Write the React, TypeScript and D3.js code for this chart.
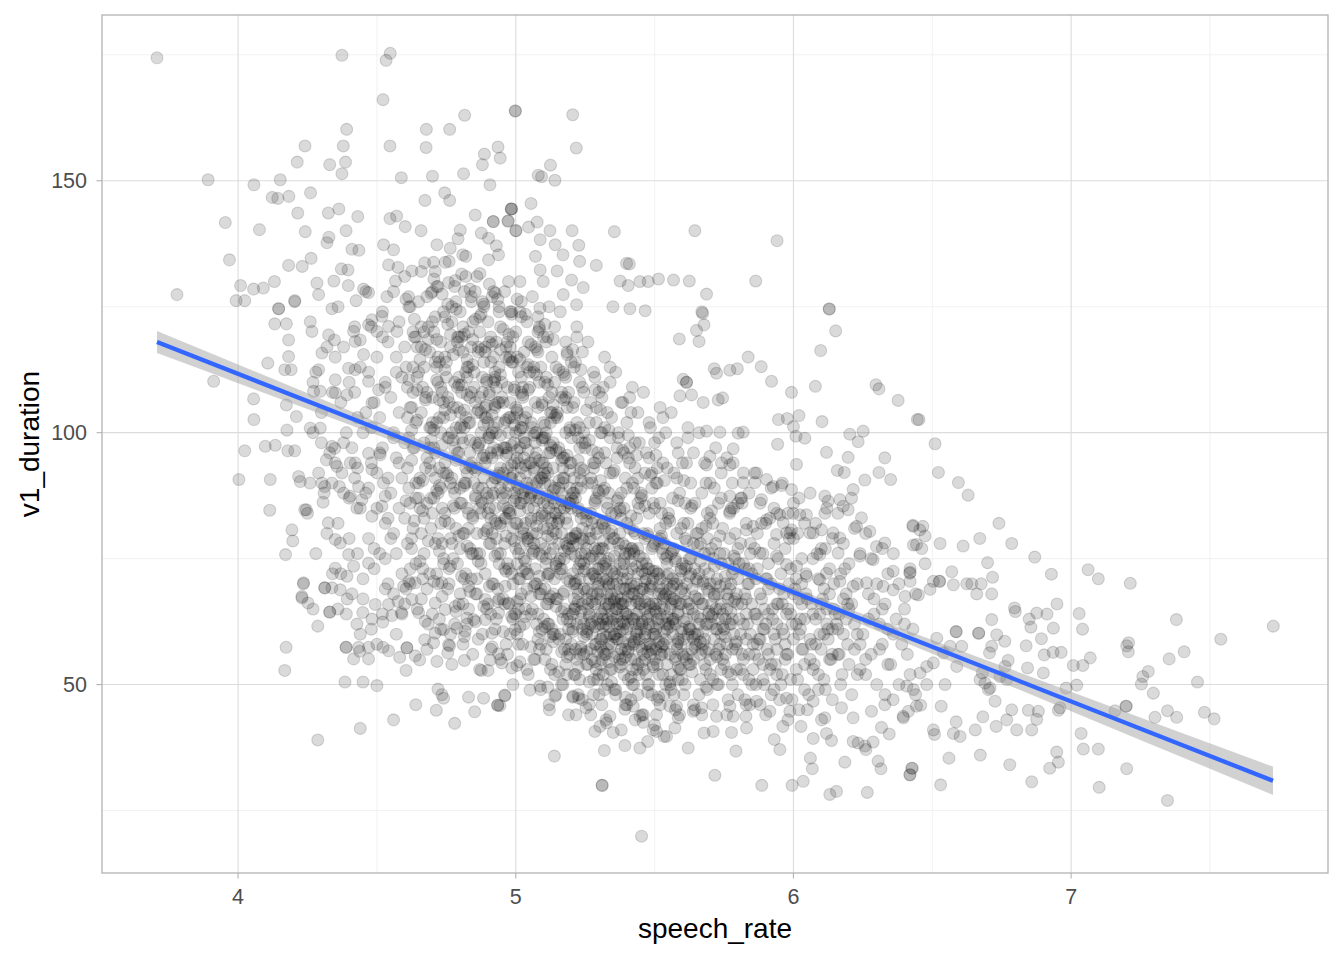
import { useEffect, useRef } from 'react';
import * as d3 from 'd3';

type Pt = [number, number];

const xTicks = [4, 5, 6, 7];
const yTicks = [50, 100, 150];
const xMinor = [4.5, 5.5, 6.5, 7.5];
const yMinor = [25, 75, 125, 175];

// fitted line end points (lm) and the read-off half width of its 95% band
const fitX = [3.708, 7.727];
const fitY = [118.0, 30.9];
const bandX = [3.708, 4.0, 4.5, 5.0, 5.47, 6.0, 6.5, 7.0, 7.727];
const bandHalf = [2.2, 1.86, 1.29, 0.79, 0.55, 0.85, 1.37, 1.94, 2.8];

// sparse points, upper left
const upperLeftPoints: Pt[] = [
  [3.708,174.4],[4.374,174.9],[4.548,175.3],[4.533,173.9],[4.522,166.1],[4.816,163.0],[4.998,163.9],[4.391,160.2],
  [4.678,160.2],[4.762,160.2],[4.241,156.9],[4.379,156.9],[4.547,156.9],[4.677,156.6],[4.887,155.3],[4.936,156.7],
  [4.944,154.5],[4.880,153.2],[4.213,153.7],[4.330,153.2],[4.387,153.7],[4.374,151.4],[3.892,150.2],[4.152,150.2],
  [4.057,149.2],[4.588,150.6],[4.700,150.9],[4.812,151.4],[4.907,149.2],[4.123,146.7],[4.143,146.5],[4.183,146.9],
  [4.261,147.6],[4.673,146.1],[4.744,147.6],[4.762,146.1],[4.984,144.4],[4.984,144.4],[4.919,141.9],[4.919,141.9],
  [4.972,142.0],[4.854,143.2],[4.215,143.6],[4.325,143.6],[4.363,144.4],[4.431,142.9],[3.954,141.7],[4.077,140.3],
  [4.242,139.9],[4.389,140.1],[4.547,142.5],[4.571,143.0],[4.602,140.9],[4.659,140.1],[4.800,140.2],[4.876,139.6],
  [4.902,138.6],[5.000,140.1],[4.320,137.7],[4.327,138.8],[4.410,136.4],[4.435,136.2],[4.524,137.3],[4.560,136.3],
  [4.716,137.3],[4.764,136.6],[4.792,138.5],[4.809,135.3],[4.930,137.1],[4.938,135.3],[3.969,134.3],[4.182,133.2],
  [4.231,133.0],[4.263,134.6],[4.372,132.5],[4.396,132.3],[4.542,133.3],[4.576,132.8],[4.626,132.1],[4.672,133.7],
  [4.704,133.8],[4.746,133.8],[4.902,134.3],[4.871,131.6],[4.782,130.2],[4.710,132.0],[3.780,127.4],[4.009,129.2],
  [4.056,128.5],[4.091,128.7],[4.131,130.0],[4.284,129.7],[4.290,127.4],[4.345,130.1],[4.397,129.2],[4.452,128.5],
  [4.470,127.8],[4.567,130.1],[4.695,127.7],[4.854,128.0],[4.926,127.7],[3.993,126.2],[4.024,126.2],[4.146,124.6],
  [4.204,126.2],[4.338,124.6],[4.425,126.2],[4.536,127.0],[4.614,127.0],[4.758,129.8],[4.974,130.0],
];

// sparse points, upper middle
const upperMidPoints: Pt[] = [
  [4.999,163.8],[5.205,163.1],[5.218,156.5],[5.125,153.1],[5.081,151.1],[5.093,150.8],[5.141,150.1],[5.055,145.5],
  [4.985,144.4],[4.973,142.0],[5.077,141.8],[5.046,140.8],[5.001,140.1],[5.123,140.1],[5.203,140.1],[5.355,139.9],
  [5.645,140.1],[5.941,138.1],[5.088,138.3],[5.142,137.3],[5.227,137.2],[5.071,135.0],[5.170,135.3],[5.230,134.0],
  [5.290,133.2],[5.088,132.3],[5.149,132.1],[5.399,133.6],[5.409,133.5],[5.376,130.1],[5.405,129.2],[5.447,130.0],
  [5.477,130.0],[5.514,130.5],[5.568,130.3],[5.625,130.1],[5.864,130.1],[5.687,127.5],[5.350,125.0],[5.411,124.6],
  [5.466,124.2],[5.670,124.0],[6.129,124.6],[5.201,130.3],[5.243,128.8],[5.099,130.0],[5.015,130.0],[5.171,127.4],
  [5.219,125.4],[5.087,124.7],
];

// sparse points, left side
const leftPoints: Pt[] = [
  [3.912,110.2],[4.107,113.8],[4.056,106.7],[4.057,102.6],[4.024,96.4],[4.003,90.7],[4.116,90.7],[4.114,84.6],
  [4.098,97.3],[4.134,97.5],[4.179,96.4],[4.204,96.4],[4.176,100.5],[4.210,103.2],[4.174,105.5],[4.182,118.4],
  [4.182,115.1],[4.168,112.5],[4.191,112.5],[4.132,121.6],[4.174,121.6],[4.146,124.6],[4.204,126.0],[4.266,120.1],
  [4.302,115.8],[4.290,112.5],[4.326,119.4],[4.347,118.4],[4.194,80.7],[4.197,78.5],[4.171,75.8],[4.246,84.7],
  [4.240,84.7],[4.306,86.2],[4.325,82.1],[4.218,91.3],[4.224,90.3],[4.259,90.0],[4.302,90.0],[4.312,89.3],
  [4.338,90.0],[4.365,89.3],[4.374,92.0],[4.260,100.9],[4.296,100.9],[4.318,94.6],[4.338,97.3],[4.348,96.9],
  [4.356,93.3],[4.404,94.0],[4.422,94.0],[4.272,108.2],[4.296,108.2],[4.350,110.5],[4.392,107.5],[4.350,107.9],
  [4.398,112.8],[4.422,112.5],[4.452,115.5],[4.470,110.2],[4.506,108.5],[4.482,105.9],[4.350,78.8],[4.368,78.1],
  [4.398,75.8],[4.416,73.5],[4.470,74.1],[4.350,73.1],[4.392,71.5],[4.338,69.2],[4.236,70.2],[4.312,69.2],
  [4.230,67.5],[4.404,87.4],[4.428,85.0],[4.446,86.7],[4.482,83.4],[4.518,85.4],[4.530,87.4],[4.524,90.0],
  [4.482,92.7],[4.434,89.3],[4.470,95.9],[4.512,95.6],[4.416,120.1],[4.440,118.4],[4.422,118.1],[4.470,121.4],
  [4.482,122.4],[4.500,120.1],[4.518,123.1],[4.542,121.1],[4.572,120.1],
];

// sparse points, lower left
const lowerLeftPoints: Pt[] = [
  [4.173,57.4],[4.168,52.8],[4.287,61.6],[4.330,64.4],[4.330,64.4],[4.230,67.2],[4.252,66.2],[4.270,65.0],
  [4.235,70.0],[4.312,69.2],[4.368,68.8],[4.393,67.0],[4.360,65.0],[4.389,57.4],[4.389,57.4],[4.434,57.4],
  [4.416,55.1],[4.470,57.4],[4.470,55.1],[4.438,56.6],[4.385,50.5],[4.450,50.5],[4.500,49.8],[4.440,41.3],
  [4.287,39.0],[4.560,43.0],[4.640,46.0],[4.714,44.9],[4.720,49.1],[4.734,48.0],[4.740,47.3],[4.780,42.3],
  [4.830,47.5],[4.884,47.3],[4.852,44.6],[4.935,45.9],[4.935,45.9],[4.960,47.9],[4.605,52.8],[4.522,57.4],
  [4.542,56.7],[4.582,55.4],[4.608,57.3],[4.608,57.3],[4.638,55.7],[4.654,54.9],[4.716,54.6],[4.755,56.3],
  [4.762,57.7],[4.815,54.8],[4.876,52.8],[4.900,52.8],[4.908,54.9],[4.938,56.1],[4.950,54.3],[4.986,53.3],
  [5.004,53.8],[4.428,62.0],[4.449,64.3],[4.482,63.0],[4.521,62.4],[4.494,65.9],[4.530,69.0],[4.542,65.9],
  [4.576,66.5],[4.554,63.7],[4.588,64.3],[4.596,69.5],[4.626,66.9],[4.650,64.3],[4.674,62.6],[4.672,58.9],
  [4.704,58.3],[4.710,60.2],[4.740,60.9],[4.758,57.9],[4.710,66.2],[4.746,64.9],[4.782,65.5],[4.788,61.2],
  [4.818,60.6],[4.824,63.2],[4.848,62.9],[4.890,62.9],[4.914,60.2],[4.938,64.2],[4.974,66.2],[4.998,60.9],
  [4.830,69.5],[4.962,69.5],[4.890,66.9],[4.638,70.2],[4.734,70.2],
];

// sparse points, lower middle
const lowerMidPoints: Pt[] = [
  [5.453,19.9],[5.311,30.0],[5.311,30.0],[5.139,35.8],[5.319,36.9],[5.393,37.9],[5.447,37.4],[5.475,38.7],
  [5.534,39.7],[5.621,37.4],[5.717,32.0],[5.793,36.8],[5.886,30.0],[5.995,30.0],[6.035,30.8],[6.131,28.2],
  [6.155,28.8],[6.266,28.6],[6.068,33.3],[6.061,35.4],[6.185,34.6],[6.305,34.8],[6.315,33.3],[6.419,32.1],
  [6.428,33.4],[5.931,39.1],[5.951,37.1],[6.215,38.7],[6.233,38.4],[6.261,37.1],[6.287,38.6],[6.257,37.8],
  [6.071,39.3],[6.119,40.3],[6.137,38.9],[5.962,41.7],[6.027,41.7],[6.317,41.5],[6.345,40.2],[5.121,45.0],
  [5.217,44.0],[5.207,47.7],[5.227,47.3],[5.253,45.4],[5.285,40.7],[5.303,41.7],[5.327,42.4],[5.351,40.5],
  [5.339,43.7],[5.300,48.0],[5.141,47.7],[5.051,48.9],[4.961,47.8],[4.943,45.8],[5.087,49.7],[5.393,45.1],
  [5.423,45.7],[5.447,43.7],[5.459,42.5],[5.507,44.0],[5.507,40.7],[5.543,39.7],[5.573,41.4],[5.585,43.4],
  [5.555,45.7],[5.579,45.7],[5.639,44.7],[5.669,45.4],[5.678,40.4],[5.711,40.7],[5.723,43.7],[5.777,40.5],
  [5.783,43.7],[5.831,41.4],[5.829,43.7],[5.771,45.7],[5.843,46.0],[5.867,46.7],[5.915,44.7],[5.987,44.7],
  [5.975,47.3],[6.071,46.7],[6.101,43.0],[6.113,43.4],[6.173,45.4],[6.215,43.4],[6.281,44.7],[6.329,46.0],
  [6.359,47.0],[6.395,43.7],[6.443,45.7],
];

// sparse points, right of the core
const rightMidPoints: Pt[] = [
  [5.589,118.6],[5.660,118.1],[5.651,120.3],[5.678,121.4],[5.673,123.7],[6.129,124.5],[6.152,120.2],[6.098,116.3],
  [5.837,115.0],[5.884,113.1],[5.921,110.2],[5.715,112.7],[5.723,111.8],[5.771,112.4],[5.798,112.7],[5.993,108.0],
  [6.079,109.2],[6.103,102.2],[6.297,109.5],[6.308,108.7],[6.377,106.4],[6.446,102.6],[5.946,102.6],[5.978,102.8],
  [6.020,103.4],[6.000,101.2],[6.009,99.3],[6.041,98.9],[5.943,97.7],[6.011,93.7],[6.203,99.7],[6.251,100.3],
  [6.233,98.2],[6.119,96.1],[6.197,95.1],[6.329,95.0],[6.158,92.5],[6.183,92.1],[6.257,90.6],[6.308,92.1],
  [6.350,90.7],[5.603,110.6],[5.615,110.0],[5.615,110.0],[5.633,107.5],[5.591,107.3],[5.675,106.0],[5.729,106.5],
  [5.745,106.9],[5.687,100.3],[5.735,100.1],[5.801,99.9],[5.819,100.1],[5.783,96.8],[5.699,95.3],[5.741,94.0],
  [5.771,93.6],[5.783,94.0],[5.687,93.6],[5.819,90.1],[5.861,90.1],[5.867,92.0],[5.903,90.7],[5.927,89.3],
  [5.957,89.5],[5.993,88.7],[5.885,86.7],[5.813,87.0],[5.771,87.4],[6.113,87.4],[6.125,86.4],[6.167,86.7],
  [6.179,85.4],[6.197,84.7],[6.209,87.0],[6.215,88.7],[6.113,84.0],[6.059,80.1],[6.071,80.1],[6.101,80.7],
  [6.143,80.1],[6.167,79.1],[6.161,76.1],[6.095,75.8],[6.227,81.4],[6.245,83.1],[6.275,80.4],[6.299,77.4],
  [6.329,78.1],[6.359,72.5],[6.431,81.4],[6.443,77.8],[6.455,80.7],[5.951,83.7],[5.963,82.1],[5.975,80.1],
  [5.993,80.7],[5.999,84.0],[6.023,83.7],[6.047,83.7],[5.939,79.8],[5.987,80.1],[5.771,84.4],[5.777,85.0],
  [5.831,80.7],[5.855,81.4],[5.879,76.1],[5.903,82.7],[5.939,75.5],[5.975,73.8],[6.011,73.5],[6.047,71.5],
  [6.095,70.8],[6.119,72.1],[6.167,70.5],[6.215,69.5],[6.263,70.2],[6.323,69.5],[6.359,68.8],[6.239,75.5],
  [6.287,74.8],[6.419,72.1],
];

// sparse points, far right
const rightPoints: Pt[] = [
  [6.452,102.6],[6.510,97.8],[6.522,92.1],[6.594,90.1],[6.629,87.6],[6.740,82.0],[6.430,81.6],[6.466,81.4],
  [6.474,79.5],[6.528,78.0],[6.611,77.5],[6.671,79.0],[6.786,78.0],[6.432,77.7],[6.462,77.0],[6.869,75.3],
  [6.699,74.2],[6.474,74.0],[6.929,71.9],[7.061,72.8],[7.098,71.0],[7.213,70.1],[6.570,72.4],[6.420,72.3],
  [6.717,71.3],[6.420,70.5],[6.504,70.5],[6.526,70.5],[6.526,70.5],[6.576,69.8],[6.624,70.0],[6.642,70.0],
  [6.676,70.0],[6.660,68.0],[6.714,68.0],[6.450,67.8],[6.402,67.5],[6.492,68.9],[6.796,65.2],[6.799,64.5],
  [6.876,64.2],[6.913,64.0],[6.949,66.0],[7.029,64.1],[7.041,61.0],[6.849,63.0],[6.855,61.4],[6.936,61.2],
  [6.714,62.9],[7.379,62.9],[7.728,61.6],[7.539,59.0],[7.207,58.3],[7.200,57.7],[7.206,56.5],[7.353,55.1],
  [7.407,56.5],[7.278,52.6],[7.258,51.6],[7.253,50.1],[7.296,48.3],[7.455,50.5],[7.069,55.3],[7.008,53.8],
  [7.042,53.8],[6.964,56.4],[6.935,56.4],[6.903,55.9],[6.893,59.1],[6.838,57.7],[7.020,49.9],[6.982,49.3],
  [6.900,52.3],[6.843,53.3],[6.773,54.8],[6.762,53.6],[6.714,57.6],[6.706,56.3],[6.761,58.6],[6.732,59.9],
  [6.667,60.2],[6.667,60.2],[6.586,60.5],[6.586,60.5],[6.606,57.6],[6.546,50.0],[6.702,49.0],[6.726,46.7],
  [6.682,43.6],[6.655,41.0],[6.730,41.7],[6.804,41.0],[6.858,41.0],[6.876,43.1],[6.882,44.7],[6.846,44.9],
  [6.786,45.0],[6.768,43.0],[6.954,44.9],[6.960,45.4],[7.158,44.8],[7.198,45.7],[7.198,45.7],[7.302,43.5],
  [7.347,44.8],[7.380,43.5],[7.480,44.5],[7.515,43.2],[7.036,40.3],[7.044,37.2],[7.098,37.2],[6.948,36.6],
  [6.954,34.6],[6.923,33.4],[7.200,33.3],[7.101,29.6],[7.347,27.0],[6.858,30.7],[6.779,34.1],[6.673,36.0],
  [6.560,35.4],[6.530,30.1],[6.426,33.4],[6.420,32.1],[6.586,42.6],[6.576,40.3],[6.600,39.7],[6.504,41.0],
  [6.508,40.1],[6.458,45.9],[6.532,45.7],[6.414,44.7],[6.396,43.4],[6.680,52.3],[6.690,50.3],[6.708,49.3],
  [6.672,51.0],[6.768,51.0],[6.744,51.6],[6.456,52.3],[6.480,53.6],[6.504,54.3],[6.588,53.6],[6.408,49.7],
  [6.432,49.0],[6.480,50.0],[6.540,56.3],[6.564,57.6],[6.516,59.2],
];

// dense core, 4.3 to 4.9
const coreLeft: Pt[] = [
  [4.26,122],[4.32,117],[4.28,112],[4.34,108],[4.30,104],[4.27,100],[4.33,96],[4.29,92],[4.31,88],[4.25,84],
  [4.32,80],[4.28,76],[4.34,72],[4.30,98],[4.27,110],
  [4.36,125],[4.42,121],[4.38,117],[4.44,113],[4.40,110],[4.37,106],[4.43,103],[4.39,100],[4.41,97],[4.35,94],
  [4.42,91],[4.38,88],[4.44,85],[4.36,82],[4.40,79],[4.43,76],[4.37,72],[4.41,68],[4.39,64],[4.44,60],
  [4.35,115],[4.42,108],[4.38,98],[4.40,87],[4.43,93],
  [4.46,128],[4.52,124],[4.48,121],[4.54,118],[4.50,115],[4.47,112],[4.53,109],[4.49,106],[4.51,103],[4.45,100],
  [4.52,97],[4.48,94],[4.54,91],[4.46,88],[4.50,85],[4.53,82],[4.47,79],[4.51,76],[4.49,73],[4.54,70],
  [4.45,67],[4.52,64],[4.48,61],[4.50,58],[4.53,110],[4.46,104],[4.51,96],[4.47,89],[4.54,83],[4.49,77],
  [4.45,71],[4.52,119],[4.48,101],[4.50,92],[4.53,75],
  [4.56,128],[4.62,125],[4.58,122],[4.64,119],[4.60,117],[4.57,115],[4.63,113],[4.59,111],[4.61,109],[4.55,107],
  [4.62,105],[4.58,104],[4.64,102],[4.56,100],[4.60,98],[4.63,97],[4.57,95],[4.61,93],[4.59,91],[4.64,90],
  [4.55,88],[4.62,86],[4.58,85],[4.60,83],[4.63,81],[4.56,80],[4.61,78],[4.57,76],[4.64,74],[4.59,72],
  [4.62,70],[4.56,68],[4.60,66],[4.63,120],[4.57,112],[4.61,103],[4.58,94],[4.64,87],[4.55,79],[4.62,73],
  [4.59,64],[4.57,60],[4.60,131],[4.63,108],[4.56,99],
  [4.66,132],[4.72,129],[4.68,127],[4.74,124],[4.70,122],[4.67,120],[4.73,118],[4.69,116],[4.71,114],[4.65,112],
  [4.72,110],[4.68,108],[4.74,106],[4.66,104],[4.70,102],[4.73,100],[4.67,98],[4.71,96],[4.69,94],[4.74,92],
  [4.65,90],[4.72,88],[4.68,86],[4.70,84],[4.73,82],[4.66,80],[4.71,78],[4.67,76],[4.74,74],[4.69,72],
  [4.72,70],[4.66,67],[4.70,64],[4.73,61],[4.68,57],[4.71,123],[4.67,113],[4.74,103],[4.69,97],[4.65,87],
  [4.72,79],[4.68,69],[4.70,128],[4.66,117],[4.73,109],[4.69,101],[4.71,91],[4.67,83],[4.74,75],[4.65,126],
  [4.72,115],[4.68,95],[4.70,107],[4.73,89],[4.66,121],
  [4.76,134],[4.82,131],[4.78,129],[4.84,126],[4.80,124],[4.77,122],[4.83,120],[4.79,118],[4.81,116],[4.75,114],
  [4.82,112],[4.78,110],[4.84,108],[4.76,106],[4.80,104],[4.83,102],[4.77,100],[4.81,98],[4.79,96],[4.84,94],
  [4.75,92],[4.82,90],[4.78,88],[4.80,86],[4.83,84],[4.76,82],[4.81,80],[4.77,78],[4.84,76],[4.79,74],
  [4.82,72],[4.76,70],[4.80,68],[4.83,65],[4.78,62],[4.81,58],[4.77,54],[4.84,127],[4.79,119],[4.75,111],
  [4.82,103],[4.78,97],[4.80,89],[4.83,81],[4.76,73],[4.81,66],[4.77,125],[4.84,117],[4.79,105],[4.82,93],
  [4.78,85],[4.80,77],[4.83,113],[4.76,99],[4.81,121],[4.77,91],[4.84,71],[4.79,109],[4.82,135],[4.80,101],
  [4.86,131],[4.92,128],[4.88,126],[4.94,124],[4.90,122],[4.87,120],[4.93,118],[4.89,116],[4.91,114],[4.85,112],
  [4.92,110],[4.88,108],[4.94,106],[4.86,104],[4.90,102],[4.93,100],[4.87,98],[4.91,96],[4.89,94],[4.94,92],
  [4.85,90],[4.92,88],[4.88,86],[4.90,84],[4.93,82],[4.86,80],[4.91,78],[4.87,76],[4.94,74],[4.89,72],
  [4.92,70],[4.86,68],[4.90,66],[4.93,63],[4.88,60],[4.91,57],[4.87,53],[4.94,125],[4.89,117],[4.85,109],
  [4.92,101],[4.88,95],[4.90,87],[4.93,79],[4.86,71],[4.91,64],[4.87,123],[4.94,113],[4.89,105],[4.92,97],
  [4.88,89],[4.90,81],[4.93,109],[4.86,93],[4.91,119],[4.87,85],[4.94,67],[4.89,103],[4.92,115],[4.90,99],
  [4.86,76],[4.93,91],[4.88,111],[4.91,83],[4.87,107],
];

// dense core, 5.0 to 5.4
const coreMid: Pt[] = [
  [4.96,128],[5.02,126],[4.98,124],[5.04,122],[5.00,120],[4.97,118],[5.03,116],[4.99,114],[5.01,112],[4.95,110],
  [5.02,108],[4.98,106],[5.04,104],[4.96,102],[5.00,100],[5.03,98],[4.97,96],[5.01,94],[4.99,92],[5.04,90],
  [4.95,88],[5.02,86],[4.98,84],[5.00,82],[5.03,80],[4.96,78],[5.01,76],[4.97,74],[5.04,72],[4.99,70],
  [5.02,68],[4.96,66],[5.00,64],[5.03,62],[4.98,60],[5.01,58],[4.97,56],[5.04,53],[4.99,50],[5.02,123],
  [4.98,115],[4.95,107],[5.03,99],[4.97,93],[5.00,87],[5.04,79],[4.96,73],[5.01,65],[4.99,119],[5.02,111],
  [4.98,103],[5.03,95],[4.97,85],[5.00,77],[5.04,69],[4.96,97],[5.01,89],[4.99,81],[5.02,101],[4.98,91],
  [5.03,75],[4.97,109],[5.00,105],[5.04,113],[4.96,83],[5.01,71],[4.99,63],[5.02,93],[4.98,117],[5.03,87],
  [5.06,127],[5.12,125],[5.08,123],[5.14,121],[5.10,119],[5.07,117],[5.13,115],[5.09,113],[5.11,111],[5.05,109],
  [5.12,107],[5.08,105],[5.14,103],[5.06,101],[5.10,99],[5.13,97],[5.07,95],[5.11,93],[5.09,91],[5.14,89],
  [5.05,87],[5.12,85],[5.08,83],[5.10,81],[5.13,79],[5.06,77],[5.11,75],[5.07,73],[5.14,71],[5.09,69],
  [5.12,67],[5.06,65],[5.10,63],[5.13,61],[5.08,59],[5.11,57],[5.07,55],[5.14,52],[5.09,49],[5.12,46],
  [5.08,120],[5.05,112],[5.13,104],[5.07,98],[5.10,92],[5.14,86],[5.06,80],[5.11,74],[5.09,68],[5.12,62],
  [5.08,116],[5.13,108],[5.07,100],[5.10,94],[5.14,84],[5.06,76],[5.11,66],[5.09,58],[5.12,96],[5.08,88],
  [5.13,82],[5.07,70],[5.10,102],[5.14,110],[5.06,90],[5.11,118],[5.09,78],[5.12,72],[5.08,64],[5.13,54],
  [5.07,106],[5.10,86],[5.05,94],[5.14,60],[5.11,100],
  [5.16,124],[5.22,121],[5.18,118],[5.24,116],[5.20,114],[5.17,112],[5.23,110],[5.19,108],[5.21,106],[5.15,104],
  [5.22,102],[5.18,100],[5.24,98],[5.16,96],[5.20,94],[5.23,92],[5.17,90],[5.21,88],[5.19,86],[5.24,84],
  [5.15,82],[5.22,80],[5.18,78],[5.20,76],[5.23,74],[5.16,72],[5.21,70],[5.17,68],[5.24,66],[5.19,64],
  [5.22,62],[5.16,60],[5.20,58],[5.23,56],[5.18,54],[5.21,52],[5.17,50],[5.24,47],[5.19,44],[5.22,119],
  [5.18,111],[5.15,103],[5.23,97],[5.17,91],[5.20,85],[5.24,79],[5.16,73],[5.21,67],[5.19,61],[5.22,55],
  [5.18,107],[5.23,101],[5.17,93],[5.20,87],[5.24,81],[5.16,75],[5.21,65],[5.19,57],[5.22,89],[5.18,83],
  [5.23,71],[5.17,63],[5.20,99],[5.24,109],[5.16,85],[5.21,113],[5.19,77],[5.22,69],[5.18,59],[5.23,51],
  [5.17,95],[5.20,79],[5.15,67],[5.24,61],[5.21,91],
  [5.26,118],[5.32,115],[5.28,112],[5.34,110],[5.30,108],[5.27,106],[5.33,104],[5.29,102],[5.31,100],[5.25,98],
  [5.32,96],[5.28,94],[5.34,92],[5.26,90],[5.30,88],[5.33,86],[5.27,84],[5.31,82],[5.29,80],[5.34,78],
  [5.25,76],[5.32,74],[5.28,72],[5.30,70],[5.33,68],[5.26,66],[5.31,64],[5.27,62],[5.34,60],[5.29,58],
  [5.32,56],[5.26,54],[5.30,52],[5.33,50],[5.28,48],[5.31,46],[5.27,44],[5.34,113],[5.29,105],[5.25,97],
  [5.32,89],[5.28,83],[5.30,77],[5.33,71],[5.26,65],[5.31,59],[5.29,53],[5.32,101],[5.28,93],[5.33,85],
  [5.27,79],[5.30,73],[5.34,67],[5.26,61],[5.31,55],[5.29,87],[5.32,81],[5.28,75],[5.33,63],[5.27,57],
  [5.30,95],[5.34,99],[5.26,69],[5.31,107],[5.29,71],[5.32,65],[5.28,51],[5.33,57],[5.27,91],[5.30,62],
  [5.25,73],[5.34,53],[5.31,77],[5.29,67],[5.32,49],
  [5.36,112],[5.42,109],[5.38,106],[5.44,104],[5.40,102],[5.37,100],[5.43,98],[5.39,96],[5.41,94],[5.35,92],
  [5.42,90],[5.38,88],[5.44,86],[5.36,84],[5.40,82],[5.43,80],[5.37,78],[5.41,76],[5.39,74],[5.44,72],
  [5.35,70],[5.42,68],[5.38,66],[5.40,64],[5.43,62],[5.36,60],[5.41,58],[5.37,56],[5.44,54],[5.39,52],
  [5.42,50],[5.36,48],[5.40,46],[5.43,43],[5.38,41],[5.41,107],[5.37,99],[5.44,91],[5.39,85],[5.35,79],
  [5.42,73],[5.38,67],[5.40,61],[5.43,55],[5.36,49],[5.41,97],[5.37,87],[5.44,77],[5.39,69],[5.42,63],
  [5.38,57],[5.40,71],[5.43,93],[5.36,65],[5.41,81],[5.37,59],[5.44,67],[5.39,75],[5.42,53],[5.38,83],
  [5.40,89],[5.36,73],[5.43,59],[5.35,63],[5.41,69],[5.39,62],[5.44,48],[5.37,66],[5.42,77],[5.38,54],
];

// dense core, 5.5 to 6.4
const coreRight: Pt[] = [
  [5.46,108],[5.52,105],[5.48,102],[5.54,100],[5.50,98],[5.47,96],[5.53,94],[5.49,92],[5.51,90],[5.45,88],
  [5.52,86],[5.48,84],[5.54,82],[5.46,80],[5.50,78],[5.53,76],[5.47,74],[5.51,72],[5.49,70],[5.54,68],
  [5.45,66],[5.52,64],[5.48,62],[5.50,60],[5.53,58],[5.46,56],[5.51,54],[5.47,52],[5.54,50],[5.49,48],
  [5.52,46],[5.46,44],[5.50,42],[5.53,103],[5.48,95],[5.45,87],[5.52,79],[5.47,71],[5.50,65],[5.54,59],
  [5.46,53],[5.51,47],[5.49,89],[5.52,81],[5.48,73],[5.53,67],[5.47,61],[5.50,55],[5.54,75],[5.46,69],
  [5.51,63],[5.49,57],[5.52,71],[5.48,66],[5.53,52],[5.47,58],[5.50,85],[5.54,62],[5.46,75],[5.51,93],
  [5.45,61],[5.49,77],[5.52,56],[5.48,50],[5.53,69],
  [5.56,104],[5.62,101],[5.58,98],[5.64,96],[5.60,94],[5.57,92],[5.63,90],[5.59,88],[5.61,86],[5.55,84],
  [5.62,82],[5.58,80],[5.64,78],[5.56,76],[5.60,74],[5.63,72],[5.57,70],[5.61,68],[5.59,66],[5.64,64],
  [5.55,62],[5.62,60],[5.58,58],[5.60,56],[5.63,54],[5.56,52],[5.61,50],[5.57,48],[5.64,46],[5.59,44],
  [5.62,99],[5.58,91],[5.55,83],[5.63,75],[5.57,67],[5.60,61],[5.64,55],[5.56,49],[5.61,79],[5.59,71],
  [5.62,65],[5.58,57],[5.63,85],[5.57,63],[5.60,69],[5.64,59],[5.56,66],[5.61,73],[5.59,53],[5.62,56],
  [5.58,70],[5.63,61],[5.57,77],[5.60,51],[5.55,72],
  [5.66,100],[5.72,97],[5.68,94],[5.74,92],[5.70,90],[5.67,88],[5.73,86],[5.69,84],[5.71,82],[5.65,80],
  [5.72,78],[5.68,76],[5.74,74],[5.66,72],[5.70,70],[5.73,68],[5.67,66],[5.71,64],[5.69,62],[5.74,60],
  [5.65,58],[5.72,56],[5.68,54],[5.70,52],[5.73,50],[5.66,48],[5.71,46],[5.67,44],[5.74,87],[5.69,79],
  [5.65,71],[5.72,65],[5.68,59],[5.70,55],[5.73,63],[5.66,67],[5.71,75],[5.67,57],[5.74,53],[5.69,69],
  [5.72,61],[5.68,73],[5.70,83],[5.73,57],[5.66,62],[5.71,51],[5.67,81],[5.74,66],[5.69,49],[5.72,70],
  [5.76,95],[5.82,92],[5.78,90],[5.84,88],[5.80,86],[5.77,84],[5.83,82],[5.79,80],[5.81,78],[5.75,76],
  [5.82,74],[5.78,72],[5.84,70],[5.76,68],[5.80,66],[5.83,64],[5.77,62],[5.81,60],[5.79,58],[5.84,56],
  [5.75,54],[5.82,52],[5.78,50],[5.80,48],[5.83,46],[5.76,44],[5.81,87],[5.77,79],[5.84,73],[5.79,67],
  [5.75,61],[5.82,55],[5.78,63],[5.80,71],[5.83,59],[5.76,65],[5.81,53],[5.77,69],[5.84,51],[5.79,75],
  [5.82,62],[5.78,57],[5.80,77],[5.76,58],[5.83,67],
  [5.86,92],[5.92,89],[5.88,86],[5.94,84],[5.90,82],[5.87,80],[5.93,78],[5.89,76],[5.91,74],[5.85,72],
  [5.92,70],[5.88,68],[5.94,66],[5.86,64],[5.90,62],[5.93,60],[5.87,58],[5.91,56],[5.89,54],[5.94,52],
  [5.85,50],[5.92,48],[5.88,46],[5.90,44],[5.93,85],[5.86,77],[5.91,69],[5.87,63],[5.94,57],[5.89,61],
  [5.85,66],[5.92,54],[5.88,59],[5.90,71],[5.93,49],[5.86,56],[5.91,64],[5.87,73],[5.94,62],[5.89,51],
  [5.96,90],[6.02,87],[5.98,84],[6.04,82],[6.00,79],[5.97,77],[6.03,75],[5.99,73],[6.01,71],[5.95,69],
  [6.02,67],[5.98,65],[6.04,63],[5.96,61],[6.00,59],[6.03,57],[5.97,55],[6.01,53],[5.99,51],[6.04,49],
  [5.95,47],[6.02,45],[5.98,43],[6.00,86],[6.03,70],[5.96,66],[6.01,62],[5.97,58],[6.04,54],[5.99,64],
  [6.02,60],[5.98,56],[6.00,68],[5.96,52],[6.03,66],
  [6.06,88],[6.12,85],[6.08,82],[6.14,79],[6.10,77],[6.07,75],[6.13,73],[6.09,71],[6.11,69],[6.05,67],
  [6.12,65],[6.08,63],[6.14,61],[6.06,59],[6.10,57],[6.13,55],[6.07,53],[6.11,51],[6.09,49],[6.14,47],
  [6.05,45],[6.12,62],[6.08,58],[6.10,66],[6.06,55],[6.13,68],[6.07,64],[6.11,60],[6.09,52],[6.14,56],
  [6.16,84],[6.22,81],[6.18,78],[6.24,76],[6.20,74],[6.17,72],[6.23,70],[6.19,68],[6.21,66],[6.15,64],
  [6.22,62],[6.18,60],[6.24,58],[6.16,56],[6.20,54],[6.23,52],[6.17,50],[6.21,48],[6.19,63],[6.22,57],
  [6.18,67],[6.24,53],[6.16,61],[6.20,65],[6.23,60],
  [6.26,80],[6.32,77],[6.28,75],[6.34,72],[6.30,70],[6.27,68],[6.33,66],[6.29,64],[6.31,62],[6.25,60],
  [6.32,58],[6.28,56],[6.34,54],[6.26,52],[6.30,50],[6.33,48],[6.27,63],[6.31,57],[6.29,67],[6.34,61],
  [6.26,55],[6.32,65],
  [6.36,76],[6.42,73],[6.38,70],[6.44,68],[6.40,65],[6.37,63],[6.43,61],[6.39,58],[6.41,56],[6.35,54],
  [6.42,52],[6.38,50],[6.44,48],[6.36,60],[6.40,62],
];

// second layer of the densest part, 4.6 to 5.2
const coreDenseLeft: Pt[] = [
  [4.615,125],[4.685,121],[4.645,117],[4.605,113],[4.665,109],[4.625,105],[4.695,101],[4.635,97],[4.675,93],[4.615,89],
  [4.655,85],[4.695,81],[4.625,77],[4.665,73],[4.605,69],[4.645,65],[4.685,62],[4.635,119],[4.675,107],[4.615,99],
  [4.655,91],[4.695,87],[4.625,79],[4.665,71],[4.645,111],
  [4.715,129],[4.785,126],[4.745,123],[4.705,120],[4.765,117],[4.725,114],[4.795,111],[4.735,108],[4.775,105],[4.715,102],
  [4.755,99],[4.795,96],[4.725,93],[4.765,90],[4.705,87],[4.745,84],[4.785,81],[4.735,78],[4.775,75],[4.715,72],
  [4.755,69],[4.795,66],[4.725,63],[4.765,60],[4.745,115],[4.785,101],[4.705,97],[4.775,89],[4.735,85],[4.715,113],
  [4.755,107],[4.795,119],[4.725,103],[4.765,79],[4.745,94],
  [4.815,128],[4.885,125],[4.845,122],[4.805,119],[4.865,116],[4.825,113],[4.895,110],[4.835,107],[4.875,104],[4.815,101],
  [4.855,98],[4.895,95],[4.825,92],[4.865,89],[4.805,86],[4.845,83],[4.885,80],[4.835,77],[4.875,74],[4.815,71],
  [4.855,68],[4.895,65],[4.825,62],[4.865,59],[4.845,56],[4.885,114],[4.805,108],[4.875,100],[4.835,96],[4.815,90],
  [4.855,87],[4.895,103],[4.825,111],[4.865,97],[4.845,93],[4.885,91],[4.805,99],[4.875,84],[4.835,102],[4.815,80],
  [4.855,106],[4.895,88],[4.825,85],[4.865,117],[4.845,76],
  [4.915,127],[4.985,124],[4.945,121],[4.905,118],[4.965,115],[4.925,112],[4.995,109],[4.935,106],[4.975,103],[4.915,100],
  [4.955,97],[4.995,94],[4.925,91],[4.965,88],[4.905,85],[4.945,82],[4.985,79],[4.935,76],[4.975,73],[4.915,70],
  [4.955,67],[4.995,64],[4.925,61],[4.965,58],[4.945,55],[4.985,114],[4.905,108],[4.975,100],[4.935,96],[4.915,90],
  [4.955,87],[4.995,103],[4.925,111],[4.965,97],[4.945,93],[4.985,91],[4.905,99],[4.975,84],[4.935,102],[4.915,80],
  [4.955,106],[4.995,88],[4.925,85],[4.965,117],[4.945,76],[4.985,72],[4.905,78],[4.975,66],[4.935,69],[4.915,95],
  [4.955,92],[4.995,98],[4.925,105],[4.965,83],[4.945,89],
  [5.015,124],[5.085,121],[5.045,118],[5.005,115],[5.065,112],[5.025,109],[5.095,106],[5.035,103],[5.075,100],[5.015,97],
  [5.055,94],[5.095,91],[5.025,88],[5.065,85],[5.005,82],[5.045,79],[5.085,76],[5.035,73],[5.075,70],[5.015,67],
  [5.055,64],[5.095,61],[5.025,58],[5.065,55],[5.045,52],[5.085,110],[5.005,104],[5.075,96],[5.035,92],[5.015,86],
  [5.055,83],[5.095,99],[5.025,107],[5.065,93],[5.045,89],[5.085,87],[5.005,95],[5.075,80],[5.035,98],[5.015,77],
  [5.055,102],[5.095,84],[5.025,81],[5.065,113],[5.045,72],[5.085,68],[5.005,74],[5.075,62],[5.035,65],[5.015,91],
  [5.055,88],[5.095,94],[5.025,101],[5.065,78],[5.045,85],[5.085,57],[5.005,60],[5.075,90],[5.035,82],[5.015,71],
  [5.115,119],[5.185,116],[5.145,113],[5.105,110],[5.165,107],[5.125,104],[5.195,101],[5.135,98],[5.175,95],[5.115,92],
  [5.155,89],[5.195,86],[5.125,83],[5.165,80],[5.105,77],[5.145,74],[5.185,71],[5.135,68],[5.175,65],[5.115,62],
  [5.155,59],[5.195,56],[5.125,53],[5.165,50],[5.145,48],[5.185,105],[5.105,99],[5.175,91],[5.135,87],[5.115,81],
  [5.155,78],[5.195,94],[5.125,102],[5.165,88],[5.145,84],[5.185,82],[5.105,90],[5.175,75],[5.135,93],[5.115,72],
  [5.155,97],[5.195,79],[5.125,76],[5.165,108],[5.145,67],[5.185,63],[5.105,69],[5.175,57],[5.135,60],[5.115,86],
  [5.155,83],[5.195,89],[5.125,96],[5.165,73],[5.145,80],[5.185,52],[5.105,55],[5.175,85],[5.135,77],[5.115,66],
];

// second layer of the densest part, 5.2 to 6.2
const coreDenseRight: Pt[] = [
  [5.215,114],[5.285,111],[5.245,108],[5.205,105],[5.265,102],[5.225,99],[5.295,96],[5.235,93],[5.275,90],[5.215,87],
  [5.255,84],[5.295,81],[5.225,78],[5.265,75],[5.205,72],[5.245,69],[5.285,66],[5.235,63],[5.275,60],[5.215,57],
  [5.255,54],[5.295,51],[5.225,48],[5.265,46],[5.245,100],[5.285,94],[5.205,88],[5.275,82],[5.235,76],[5.215,70],
  [5.255,67],[5.295,73],[5.225,85],[5.265,79],[5.245,62],[5.285,58],[5.205,64],[5.275,55],[5.235,57],[5.215,80],
  [5.255,77],[5.295,63],[5.225,68],[5.265,71],[5.245,74],[5.285,86],[5.205,61],[5.275,68],[5.235,83],[5.215,65],
  [5.255,60],[5.295,68],[5.225,73],[5.265,64],[5.245,56],[5.285,77],[5.205,79],[5.275,72],[5.235,89],[5.215,52],
  [5.315,109],[5.385,106],[5.345,103],[5.305,100],[5.365,97],[5.325,94],[5.395,91],[5.335,88],[5.375,85],[5.315,82],
  [5.355,79],[5.395,76],[5.325,73],[5.365,70],[5.305,67],[5.345,64],[5.385,61],[5.335,58],[5.375,55],[5.315,52],
  [5.355,49],[5.395,46],[5.325,43],[5.365,95],[5.345,84],[5.385,78],[5.305,75],[5.375,69],[5.335,66],[5.315,63],
  [5.355,60],[5.395,57],[5.325,62],[5.365,65],[5.345,68],[5.385,71],[5.305,59],[5.375,62],[5.335,75],[5.315,71],
  [5.355,67],[5.395,64],[5.325,56],[5.365,59],[5.345,53],[5.385,66],[5.305,54],[5.375,74],[5.335,80],[5.315,77],
  [5.355,72],[5.395,69],[5.325,66],[5.365,62],[5.345,58],[5.385,55],[5.305,62],[5.375,80],[5.335,70],[5.315,60],
  [5.415,104],[5.485,101],[5.445,98],[5.405,95],[5.465,92],[5.425,89],[5.495,86],[5.435,83],[5.475,80],[5.415,77],
  [5.455,74],[5.495,71],[5.425,68],[5.465,65],[5.405,62],[5.445,59],[5.485,56],[5.435,53],[5.475,50],[5.415,47],
  [5.455,44],[5.495,41],[5.425,63],[5.465,60],[5.445,66],[5.485,69],[5.405,72],[5.475,63],[5.435,70],[5.415,66],
  [5.455,62],[5.495,60],[5.425,58],[5.465,55],[5.445,52],[5.485,64],[5.405,57],[5.475,73],[5.435,60],[5.415,55],
  [5.455,69],[5.495,66],[5.425,76],[5.465,79],[5.445,85],[5.485,58],[5.405,51],[5.475,68],[5.435,64],[5.415,70],
  [5.455,57],[5.495,54],[5.425,50],[5.465,72],[5.445,62],
  [5.515,99],[5.585,96],[5.545,93],[5.505,90],[5.565,87],[5.525,84],[5.595,81],[5.535,78],[5.575,75],[5.515,72],
  [5.555,69],[5.595,66],[5.525,63],[5.565,60],[5.505,57],[5.545,54],[5.585,51],[5.535,48],[5.575,45],[5.515,62],
  [5.555,65],[5.595,58],[5.525,68],[5.565,71],[5.505,66],[5.545,61],[5.585,64],[5.535,58],[5.575,55],[5.515,52],
  [5.555,56],[5.595,73],[5.525,77],[5.565,67],[5.505,61],[5.545,70],[5.585,59],[5.535,65],[5.575,62],[5.515,68],
  [5.555,50],[5.595,53],[5.525,56],[5.565,63],[5.545,74],
  [5.615,94],[5.685,90],[5.645,86],[5.605,82],[5.665,78],[5.625,75],[5.695,72],[5.635,69],[5.675,66],[5.615,63],
  [5.655,60],[5.695,57],[5.625,54],[5.665,51],[5.605,48],[5.645,45],[5.685,62],[5.635,65],[5.675,58],[5.615,70],
  [5.655,67],[5.695,64],[5.625,61],[5.665,56],[5.605,59],[5.645,73],[5.685,53],[5.635,57],[5.675,70],[5.615,55],
  [5.655,80],[5.695,76],[5.625,66],[5.665,63],[5.645,60],
  [5.715,89],[5.785,85],[5.745,81],[5.705,77],[5.765,74],[5.725,71],[5.795,68],[5.735,65],[5.775,62],[5.715,59],
  [5.755,56],[5.795,53],[5.725,50],[5.765,47],[5.745,64],[5.785,60],[5.705,66],[5.775,70],[5.735,58],[5.715,68],
  [5.755,63],[5.795,57],[5.725,61],[5.765,67],[5.745,55],[5.785,73],[5.705,62],[5.775,52],[5.735,76],[5.755,70],
  [5.815,86],[5.885,82],[5.845,78],[5.805,74],[5.865,71],[5.825,68],[5.895,65],[5.835,62],[5.875,59],[5.815,56],
  [5.855,53],[5.895,50],[5.825,47],[5.865,64],[5.845,60],[5.885,67],[5.805,63],[5.875,55],[5.835,70],[5.815,66],
  [5.855,58],[5.895,61],[5.825,73],[5.865,50],[5.845,76],
  [5.915,83],[5.985,79],[5.945,75],[5.905,71],[5.965,68],[5.925,65],[5.995,62],[5.935,59],[5.975,56],[5.915,53],
  [5.955,50],[5.995,47],[5.925,63],[5.965,60],[5.945,66],[5.985,70],[5.905,57],[5.975,64],[5.935,54],[5.955,72],
  [6.015,80],[6.085,76],[6.045,72],[6.005,69],[6.065,66],[6.025,63],[6.095,60],[6.035,57],[6.075,54],[6.015,51],
  [6.055,48],[6.095,64],[6.025,61],[6.065,58],[6.045,68],
  [6.115,77],[6.185,73],[6.145,70],[6.105,67],[6.165,64],[6.125,61],[6.195,58],[6.135,55],[6.175,52],[6.115,49],
  [6.155,62],[6.195,66],[6.125,59],[6.165,56],[6.145,65],
];

// third layer, upper dark cluster 4.6 to 5.2
const coreDarkUpper: Pt[] = [
  [4.605,126.5],[4.635,122.5],[4.685,118.5],[4.655,114.5],[4.615,110.5],[4.675,106.5],[4.645,102.5],[4.695,98.5],[4.625,94.5],[4.665,90.5],
  [4.605,86.5],[4.635,82.5],[4.685,78.5],[4.655,74.5],[4.615,70.5],[4.675,116.5],[4.645,108.5],[4.695,92.5],[4.625,100.5],[4.665,84.5],
  [4.705,130.5],[4.735,127.5],[4.785,124.5],[4.755,121.5],[4.715,118.5],[4.775,115.5],[4.745,112.5],[4.795,109.5],[4.725,106.5],[4.765,103.5],
  [4.705,100.5],[4.735,97.5],[4.785,94.5],[4.755,91.5],[4.715,88.5],[4.775,85.5],[4.745,82.5],[4.795,79.5],[4.725,76.5],[4.765,73.5],
  [4.705,70.5],[4.735,67.5],[4.785,64.5],[4.755,125.5],[4.715,110.5],[4.775,98.5],[4.745,104.5],[4.795,116.5],[4.725,89.5],[4.765,119.5],
  [4.805,131.5],[4.835,128.5],[4.885,125.5],[4.855,122.5],[4.815,119.5],[4.875,116.5],[4.845,113.5],[4.895,110.5],[4.825,107.5],[4.865,104.5],
  [4.805,101.5],[4.835,98.5],[4.885,95.5],[4.855,92.5],[4.815,89.5],[4.875,86.5],[4.845,83.5],[4.895,80.5],[4.825,77.5],[4.865,74.5],
  [4.805,71.5],[4.835,68.5],[4.885,65.5],[4.855,62.5],[4.815,59.5],[4.875,123.5],[4.845,118.5],[4.895,105.5],[4.825,114.5],[4.865,97.5],
  [4.805,109.5],[4.835,93.5],[4.885,101.5],[4.855,87.5],[4.815,104.5],
  [4.905,129.5],[4.935,126.5],[4.985,123.5],[4.955,120.5],[4.915,117.5],[4.975,114.5],[4.945,111.5],[4.995,108.5],[4.925,105.5],[4.965,102.5],
  [4.905,99.5],[4.935,96.5],[4.985,93.5],[4.955,90.5],[4.915,87.5],[4.975,84.5],[4.945,81.5],[4.995,78.5],[4.925,75.5],[4.965,72.5],
  [4.905,69.5],[4.935,66.5],[4.985,63.5],[4.955,60.5],[4.915,57.5],[4.975,119.5],[4.945,116.5],[4.995,101.5],[4.925,110.5],[4.965,95.5],
  [4.905,107.5],[4.935,91.5],[4.985,97.5],[4.955,85.5],[4.915,103.5],[4.975,89.5],[4.945,99.5],[4.995,86.5],[4.925,82.5],[4.965,79.5],
  [5.005,126.5],[5.035,123.5],[5.085,120.5],[5.055,117.5],[5.015,114.5],[5.075,111.5],[5.045,108.5],[5.095,105.5],[5.025,102.5],[5.065,99.5],
  [5.005,96.5],[5.035,93.5],[5.085,90.5],[5.055,87.5],[5.015,84.5],[5.075,81.5],[5.045,78.5],[5.095,75.5],[5.025,72.5],[5.065,69.5],
  [5.005,66.5],[5.035,63.5],[5.085,60.5],[5.055,57.5],[5.015,54.5],[5.075,116.5],[5.045,113.5],[5.095,98.5],[5.025,107.5],[5.065,92.5],
  [5.005,104.5],[5.035,88.5],[5.085,94.5],[5.055,82.5],[5.015,100.5],[5.075,86.5],[5.045,96.5],[5.095,83.5],[5.025,79.5],[5.065,76.5],
  [5.005,89.5],[5.035,74.5],[5.085,71.5],[5.055,67.5],[5.015,61.5],
  [5.105,121.5],[5.135,118.5],[5.185,115.5],[5.155,112.5],[5.115,109.5],[5.175,106.5],[5.145,103.5],[5.195,100.5],[5.125,97.5],[5.165,94.5],
  [5.105,91.5],[5.135,88.5],[5.185,85.5],[5.155,82.5],[5.115,79.5],[5.175,76.5],[5.145,73.5],[5.195,70.5],[5.125,67.5],[5.165,64.5],
  [5.105,61.5],[5.135,58.5],[5.185,55.5],[5.155,52.5],[5.115,49.5],[5.175,111.5],[5.145,96.5],[5.195,92.5],[5.125,89.5],[5.165,86.5],
  [5.105,83.5],[5.135,80.5],[5.185,77.5],[5.155,74.5],[5.115,71.5],[5.175,68.5],[5.145,65.5],[5.195,62.5],[5.125,59.5],[5.165,56.5],
  [5.105,101.5],[5.135,105.5],[5.185,95.5],[5.155,90.5],[5.115,87.5],
];

// third layer, lower dark cluster 5.2 to 5.8
const coreDarkLower: Pt[] = [
  [5.205,116.5],[5.235,112.5],[5.285,108.5],[5.255,104.5],[5.215,100.5],[5.275,96.5],[5.245,92.5],[5.295,88.5],[5.225,84.5],[5.265,80.5],
  [5.205,77.5],[5.235,74.5],[5.285,71.5],[5.255,68.5],[5.215,65.5],[5.275,62.5],[5.245,59.5],[5.295,56.5],[5.225,53.5],[5.265,50.5],
  [5.205,47.5],[5.235,90.5],[5.285,86.5],[5.255,82.5],[5.215,79.5],[5.275,75.5],[5.245,72.5],[5.295,69.5],[5.225,66.5],[5.265,63.5],
  [5.205,60.5],[5.235,57.5],[5.285,54.5],[5.255,60.5],[5.215,70.5],[5.275,66.5],[5.245,78.5],[5.295,76.5],[5.225,94.5],[5.265,98.5],
  [5.205,86.5],[5.235,64.5],[5.285,61.5],[5.255,56.5],[5.215,75.5],
  [5.305,104.5],[5.335,100.5],[5.385,96.5],[5.355,92.5],[5.315,88.5],[5.375,84.5],[5.345,80.5],[5.395,77.5],[5.325,74.5],[5.365,71.5],
  [5.305,68.5],[5.335,65.5],[5.385,62.5],[5.355,59.5],[5.315,56.5],[5.375,53.5],[5.345,50.5],[5.395,47.5],[5.325,70.5],[5.365,67.5],
  [5.305,64.5],[5.335,61.5],[5.385,58.5],[5.355,55.5],[5.315,73.5],[5.375,76.5],[5.345,62.5],[5.395,66.5],[5.325,59.5],[5.365,63.5],
  [5.305,57.5],[5.335,69.5],[5.385,72.5],[5.355,75.5],[5.315,78.5],[5.375,60.5],[5.345,72.5],[5.395,55.5],[5.325,82.5],[5.365,86.5],
  [5.305,90.5],[5.335,54.5],[5.385,64.5],[5.355,66.5],[5.315,61.5],
  [5.405,99.5],[5.435,95.5],[5.485,91.5],[5.455,87.5],[5.415,83.5],[5.475,79.5],[5.445,75.5],[5.495,72.5],[5.425,69.5],[5.465,66.5],
  [5.405,63.5],[5.435,60.5],[5.485,57.5],[5.455,54.5],[5.415,51.5],[5.475,48.5],[5.445,64.5],[5.495,61.5],[5.425,58.5],[5.465,70.5],
  [5.405,67.5],[5.435,73.5],[5.485,65.5],[5.455,62.5],[5.415,59.5],[5.475,56.5],[5.445,68.5],[5.495,53.5],[5.425,76.5],[5.465,59.5],
  [5.405,56.5],[5.435,66.5],[5.485,69.5],[5.455,72.5],[5.415,74.5],[5.475,63.5],[5.445,57.5],[5.495,77.5],[5.425,80.5],[5.465,85.5],
  [5.505,95.5],[5.535,90.5],[5.585,86.5],[5.555,82.5],[5.515,78.5],[5.575,74.5],[5.545,71.5],[5.595,68.5],[5.525,65.5],[5.565,62.5],
  [5.505,59.5],[5.535,56.5],[5.585,53.5],[5.555,50.5],[5.515,47.5],[5.575,66.5],[5.545,63.5],[5.595,60.5],[5.525,57.5],[5.565,69.5],
  [5.505,72.5],[5.535,67.5],[5.585,64.5],[5.555,61.5],[5.515,58.5],[5.575,55.5],[5.545,75.5],[5.595,72.5],[5.525,79.5],[5.565,76.5],
  [5.505,64.5],[5.535,60.5],[5.585,58.5],[5.555,67.5],[5.515,69.5],
  [5.605,90.5],[5.635,85.5],[5.685,81.5],[5.655,77.5],[5.615,73.5],[5.675,70.5],[5.645,67.5],[5.695,64.5],[5.625,61.5],[5.665,58.5],
  [5.605,55.5],[5.635,52.5],[5.685,49.5],[5.655,63.5],[5.615,66.5],[5.675,60.5],[5.645,57.5],[5.695,68.5],[5.625,71.5],[5.665,74.5],
  [5.605,62.5],[5.635,59.5],[5.685,56.5],[5.655,70.5],[5.615,78.5],
  [5.705,84.5],[5.735,79.5],[5.785,75.5],[5.755,71.5],[5.715,67.5],[5.775,64.5],[5.745,61.5],[5.795,58.5],[5.725,55.5],[5.765,52.5],
  [5.705,63.5],[5.735,69.5],[5.785,66.5],[5.755,59.5],[5.715,73.5],
];

const allPoints: Pt[] = [
  ...upperLeftPoints, ...upperMidPoints, ...leftPoints, ...lowerLeftPoints,
  ...lowerMidPoints, ...rightMidPoints, ...rightPoints, ...coreLeft, ...coreMid, ...coreRight,
  ...coreDenseLeft, ...coreDenseRight, ...coreDarkUpper, ...coreDarkLower,
];

const W = 1344;
const H = 960;
const panel = { left: 102, right: 1328, top: 15, bottom: 873 };

export default function App() {
  const svgRef = useRef<SVGSVGElement>(null);

  useEffect(() => {
    if (!svgRef.current) return;
    const svg = d3.select(svgRef.current);
    svg.selectAll('*').remove();

    const x = d3.scaleLinear().domain([3.51, 7.925]).range([panel.left, panel.right]);
    const y = d3.scaleLinear().domain([12.6, 182.9]).range([panel.bottom, panel.top]);
    const font = '"Liberation Sans", Arial, Helvetica, sans-serif';

    svg.append('rect').attr('width', W).attr('height', H).attr('fill', '#ffffff');

    const g = svg.append('g');

    // minor grid
    g.selectAll('line.xminor').data(xMinor).join('line')
      .attr('x1', d => x(d)).attr('x2', d => x(d))
      .attr('y1', panel.top).attr('y2', panel.bottom)
      .attr('stroke', '#ececec').attr('stroke-width', 0.7);
    g.selectAll('line.yminor').data(yMinor).join('line')
      .attr('y1', d => y(d)).attr('y2', d => y(d))
      .attr('x1', panel.left).attr('x2', panel.right)
      .attr('stroke', '#ececec').attr('stroke-width', 0.7);
    // major grid
    g.selectAll('line.xmajor').data(xTicks).join('line')
      .attr('x1', d => x(d)).attr('x2', d => x(d))
      .attr('y1', panel.top).attr('y2', panel.bottom)
      .attr('stroke', '#dcdcdc').attr('stroke-width', 1.1);
    g.selectAll('line.ymajor').data(yTicks).join('line')
      .attr('y1', d => y(d)).attr('y2', d => y(d))
      .attr('x1', panel.left).attr('x2', panel.right)
      .attr('stroke', '#dcdcdc').attr('stroke-width', 1.1);

    // points
    svg.append('g').selectAll('circle').data(allPoints).join('circle')
      .attr('cx', d => x(d[0]))
      .attr('cy', d => y(d[1]))
      .attr('r', 6)
      .attr('fill', '#000')
      .attr('fill-opacity', 0.145)
      .attr('stroke', '#000')
      .attr('stroke-opacity', 0.145)
      .attr('stroke-width', 1.1);

    // smooth: band then line
    const slope = (fitY[1] - fitY[0]) / (fitX[1] - fitX[0]);
    const fit = (v: number) => fitY[0] + (v - fitX[0]) * slope;
    const band = bandX.map((v, i) => ({ x: v, lo: fit(v) - bandHalf[i], hi: fit(v) + bandHalf[i] }));
    svg.append('path')
      .datum(band)
      .attr('d', d3.area<{ x: number; lo: number; hi: number }>()
        .x(d => x(d.x)).y0(d => y(d.lo)).y1(d => y(d.hi))
        .curve(d3.curveMonotoneX))
      .attr('fill', '#999999')
      .attr('fill-opacity', 0.45);

    svg.append('path')
      .datum(fitX.map((v, i) => [v, fitY[i]] as Pt))
      .attr('d', d3.line<Pt>().x(d => x(d[0])).y(d => y(d[1])))
      .attr('fill', 'none')
      .attr('stroke', '#3366FF')
      .attr('stroke-width', 4.3);

    // panel border
    svg.append('rect')
      .attr('x', panel.left).attr('y', panel.top)
      .attr('width', panel.right - panel.left).attr('height', panel.bottom - panel.top)
      .attr('fill', 'none').attr('stroke', '#b3b3b3').attr('stroke-width', 1.3);

    // ticks
    svg.append('g').selectAll('line').data(xTicks).join('line')
      .attr('x1', d => x(d)).attr('x2', d => x(d))
      .attr('y1', panel.bottom).attr('y2', panel.bottom + 5.5)
      .attr('stroke', '#b3b3b3').attr('stroke-width', 1.1);
    svg.append('g').selectAll('line').data(yTicks).join('line')
      .attr('y1', d => y(d)).attr('y2', d => y(d))
      .attr('x1', panel.left - 5.5).attr('x2', panel.left)
      .attr('stroke', '#b3b3b3').attr('stroke-width', 1.1);

    // tick labels
    svg.append('g').selectAll('text').data(xTicks).join('text')
      .attr('x', d => x(d)).attr('y', 904)
      .attr('text-anchor', 'middle')
      .attr('font-family', font).attr('font-size', 21.5).attr('fill', '#4d4d4d')
      .text(d => String(d));
    svg.append('g').selectAll('text').data(yTicks).join('text')
      .attr('x', 87).attr('y', d => y(d) + 7.7)
      .attr('text-anchor', 'end')
      .attr('font-family', font).attr('font-size', 21.5).attr('fill', '#4d4d4d')
      .text(d => String(d));

    // axis titles
    svg.append('text')
      .attr('x', (panel.left + panel.right) / 2).attr('y', 938)
      .attr('text-anchor', 'middle')
      .attr('font-family', font).attr('font-size', 28).attr('fill', '#000')
      .text('speech_rate');
    svg.append('text')
      .attr('transform', `translate(39, ${(panel.top + panel.bottom) / 2}) rotate(-90)`)
      .attr('text-anchor', 'middle')
      .attr('font-family', font).attr('font-size', 28).attr('fill', '#000')
      .text('v1_duration');
  }, []);

  return (
    <svg
      ref={svgRef}
      width={W}
      height={H}
      style={{ position: 'absolute', left: 0, top: 0, display: 'block' }}
    />
  );
}
